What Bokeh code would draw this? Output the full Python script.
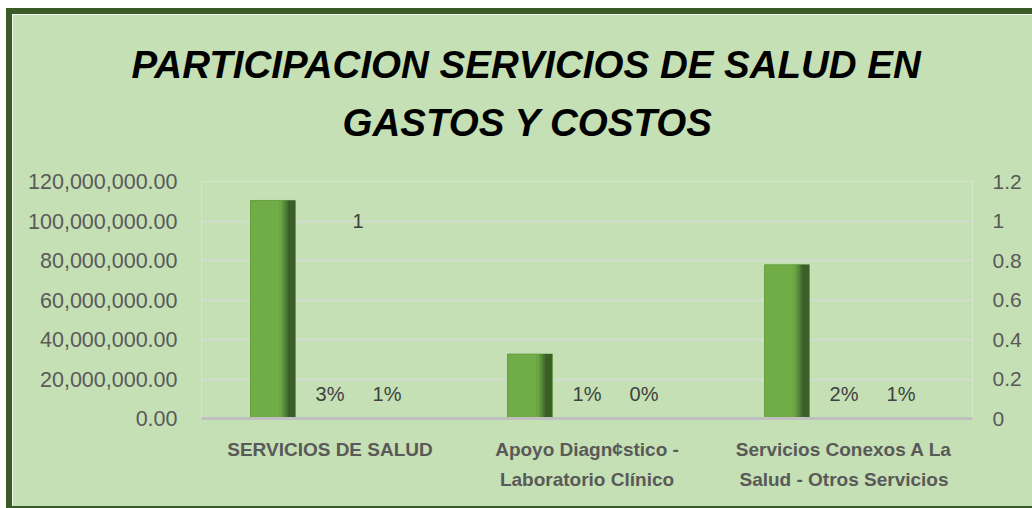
from bokeh.plotting import figure
from bokeh.models import (Range1d, FactorRange, LinearAxis, NumeralTickFormatter,
                          FixedTicker, ColumnDataSource, Title)
from bokeh.transform import dodge
from bokeh.core.properties import value
from bokeh.embed import file_html
from bokeh.resources import INLINE

# ---------------- data ----------------
categorias = ["SERVICIOS DE SALUD",
              "Apoyo Diagn¢stico -\nLaboratorio Clínico",
              "Servicios Conexos A La\nSalud - Otros Servicios"]
valores = [110_400_000, 32_600_000, 77_800_000]
participacion_a = [0.03, 0.01, 0.02]
participacion_b = [0.01, 0.00, 0.01]
indice_cat = ["SERVICIOS DE SALUD"]
indice_val = [1]
titulo = ["PARTICIPACION SERVICIOS DE SALUD EN", "GASTOS Y COSTOS"]
ticks_izq = [0, 20_000_000, 40_000_000, 60_000_000, 80_000_000, 100_000_000, 120_000_000]
ticks_der = [0, 0.2, 0.4, 0.6, 0.8, 1, 1.2]

FONT = "Liberation Sans"
BG = "#C5E0B4"
FRAME_C = "#3A5B27"

ML, MR, MT, MB = 189, 60, 167, 88
W, H = 1020, 492

p = figure(x_range=FactorRange(*categorias, range_padding=0, factor_padding=0),
           y_range=Range1d(0, 120_000_000), title=None,
           width=W, height=H, output_backend="svg", toolbar_location=None,
           min_border_left=ML, min_border_right=MR, min_border_top=MT,
           min_border_bottom=MB)
p.styles = {"margin-left": "12px", "margin-top": "14px",
            "box-shadow": (f"-6px 0 0 0 {FRAME_C}, 0 -6px 0 0 {FRAME_C}, "
                           f"-6px -6px 0 0 {FRAME_C}, 0 2px 0 0 {FRAME_C}, "
                           f"-6px 2px 0 0 {FRAME_C}")}
p.background_fill_color = BG
p.border_fill_color = BG
p.outline_line_color = None

# title: spacer nearest the plot, then the two lines
p.add_layout(Title(text=" ", standoff=20, text_font=FONT, text_font_size="10px"), "above")
for line, off, so in [(titulo[1], 141, 10), (titulo[0], -70, 16)]:
    p.add_layout(Title(text=line, align="left", offset=off, standoff=so,
                       text_font=FONT, text_font_style="bold italic",
                       text_font_size="38.5px", text_color="#000000"), "above")

# left axis
yl = p.yaxis[0]
yl.ticker = FixedTicker(ticks=ticks_izq)
yl.formatter = NumeralTickFormatter(format="0,0.00")
yl.axis_line_color = None
yl.major_tick_line_color = None
yl.minor_tick_line_color = None
yl.major_label_standoff = 18
yl.major_label_text_font = FONT
yl.major_label_text_font_size = "21.5px"
yl.major_label_text_color = "#595959"

# right axis
p.extra_y_ranges = {"pct": Range1d(0, 1.2)}
yr = LinearAxis(y_range_name="pct", ticker=FixedTicker(ticks=ticks_der),
                formatter=NumeralTickFormatter(format="0.[0]"))
yr.axis_line_color = None
yr.major_tick_line_color = None
yr.minor_tick_line_color = None
yr.major_label_standoff = 14
yr.major_label_text_font = FONT
yr.major_label_text_font_size = "21px"
yr.major_label_text_color = "#595959"
p.add_layout(yr, "right")

# x axis
xa = p.xaxis[0]
xa.axis_line_color = "#BFBFBF"
xa.axis_line_width = 3
xa.major_tick_line_color = None
xa.minor_tick_line_color = None
xa.major_label_standoff = 14
xa.major_label_text_font = FONT
xa.major_label_text_font_style = "bold"
xa.major_label_text_font_size = "19px"
xa.major_label_text_color = "#595959"
xa.major_label_text_line_height = 1.45

p.xgrid.grid_line_color = None
p.ygrid.grid_line_color = "#D9D9D9"
p.ygrid.grid_line_width = 1.5

src = ColumnDataSource(dict(
    cat=categorias, valor=valores, a=participacion_a, b=participacion_b,
    la=[f"{v:.0%}" for v in participacion_a],
    lb=[f"{v:.0%}" for v in participacion_b]))

U = 1 / 257.0
bar_off = -57 * U
bar_w = 45 * U
p.vbar(x=dodge("cat", bar_off, range=p.x_range), top="valor", width=bar_w,
       source=src, fill_color="#70AD47", line_color="#669E40", line_width=1)
for a, b, col in [(6, 9, "#6AA444"), (9, 11, "#5F953C"), (11, 13, "#548536"),
                  (13, 15, "#497230"), (15, 22, "#3C5F29")]:
    p.vbar(x=dodge("cat", bar_off + (a + b) / 2 * U, range=p.x_range), top="valor",
           width=(b - a) * U, source=src, fill_color=col, line_color=None)

lab_kw = dict(text_align="center", text_baseline="middle", text_font=value(FONT),
              text_font_size="20px", text_color="#404040", source=src)
p.text(x=dodge("cat", 0, range=p.x_range), y="a", text="la", y_offset=-25, **lab_kw)
p.text(x=dodge("cat", 57 * U, range=p.x_range), y="b", text="lb", y_offset=-25, **lab_kw)

src_i = ColumnDataSource(dict(cat=indice_cat, v=indice_val, t=[str(v) for v in indice_val]))
p.text(x=dodge("cat", 28 * U, range=p.x_range), y="v", text="t", y_range_name="pct",
       text_align="center", text_baseline="middle", text_font=value(FONT),
       text_font_size="20px", text_color="#404040", source=src_i)

open("out.html", "w").write(file_html(p, INLINE))
